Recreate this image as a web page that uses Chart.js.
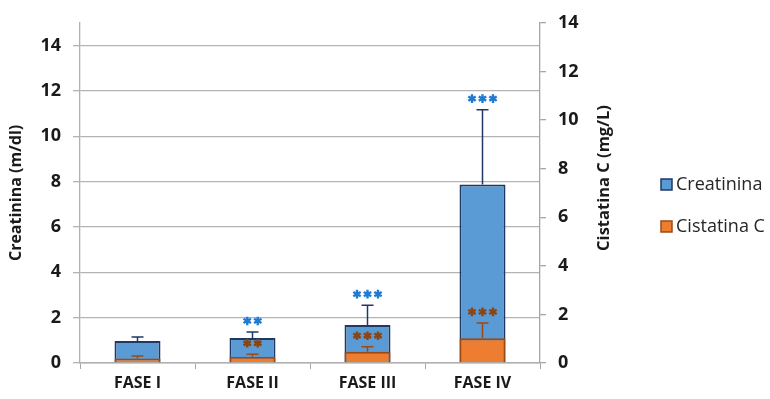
<!DOCTYPE html>
<html>
<head>
<meta charset="utf-8">
<script src="https://cdn.jsdelivr.net/npm/chart.js@4/dist/chart.umd.min.js"></script>
<style>
  html, body { margin: 0; padding: 0; background: #fff; }
  #wrap { width: 770px; height: 399px; position: relative; }
</style>
</head>
<body>
<div id="wrap"><canvas id="c" width="770" height="399"></canvas></div>
<script>
// Phases of the study
const categories = ['FASE I', 'FASE II', 'FASE III', 'FASE IV'];

// Creatinina (m/dl): mean and standard deviation
const creatinina = [0.97, 1.1, 1.68, 7.87];
const creatininaSD = [0.18, 0.27, 0.87, 3.3];
const creatininaSig = ['', '**', '***', '***'];

// Cistatina C (mg/L): mean and standard deviation
const cistatina = [0.19, 0.26, 0.46, 1.02];
const cistatinaSD = [0.10, 0.10, 0.21, 0.63];
const cistatinaSig = ['', '**', '***', '***'];

// Axis ticks
const leftTicks = [0, 2, 4, 6, 8, 10, 12, 14];
const rightTicks = [0, 2, 4, 6, 8, 10, 12, 14];

const FONT = '"Open Sans", sans-serif';
const BLUE = '#5B9BD5', NAVY = '#1F3864';
const ORANGE = '#ED7D31', BROWN = '#9C4A12';
const SIG_BLUE = '#1F7BD0', SIG_BROWN = '#8B4513';
const TEXT = '#1a1a1a';

// Six-spoke asterisk centred on (cx, cy)
function drawStar(ctx, cx, cy, r) {
  ctx.beginPath();
  for (let k = 0; k < 3; k++) {
    const a = Math.PI / 2 + k * Math.PI / 3;
    ctx.moveTo(cx + r * Math.cos(a), cy + r * Math.sin(a));
    ctx.lineTo(cx - r * Math.cos(a), cy - r * Math.sin(a));
  }
  ctx.stroke();
}

// Upward error bars plus significance asterisks
const errorBars = {
  id: 'errorBars',
  afterDatasetsDraw(chart) {
    const ctx = chart.ctx;
    const sets = [
      { idx: 0, vals: creatinina, sd: creatininaSD, sig: creatininaSig, line: NAVY, star: SIG_BLUE, axis: 'y' },
      { idx: 1, vals: cistatina, sd: cistatinaSD, sig: cistatinaSig, line: BROWN, star: SIG_BROWN, axis: 'y1' }
    ];
    sets.forEach(s => {
      const meta = chart.getDatasetMeta(s.idx);
      const scale = chart.scales[s.axis];
      meta.data.forEach((bar, i) => {
        const x = bar.x;
        const yBase = scale.getPixelForValue(s.vals[i]);
        const yTop = scale.getPixelForValue(s.vals[i] + s.sd[i]);
        ctx.save();
        ctx.strokeStyle = s.line;
        ctx.lineWidth = 1.5;
        ctx.beginPath();
        ctx.moveTo(x, yBase);
        ctx.lineTo(x, yTop);
        ctx.moveTo(x - 6, yTop);
        ctx.lineTo(x + 6, yTop);
        ctx.stroke();
        const n = s.sig[i].length;
        if (n) {
          ctx.strokeStyle = s.star;
          ctx.lineWidth = 2.4;
          ctx.lineCap = 'butt';
          const gap = 10.5;
          const x0 = x - (n - 1) * gap / 2;
          for (let k = 0; k < n; k++) drawStar(ctx, x0 + k * gap, yTop - 11, 4.3);
        }
        ctx.restore();
      });
    });
  }
};

// Legend on the right, and the right-hand axis title read bottom-to-top
const sideLegend = {
  id: 'sideLegend',
  afterDraw(chart) {
    const ctx = chart.ctx;
    ctx.save();
    ctx.translate(604, 178);
    ctx.rotate(-Math.PI / 2);
    ctx.fillStyle = TEXT;
    ctx.font = 'bold 16.5px ' + FONT;
    ctx.textAlign = 'center';
    ctx.textBaseline = 'middle';
    ctx.fillText('Cistatina C (mg/L)', 0, 0);
    ctx.restore();

    const items = [
      { label: 'Creatinina', fill: BLUE, border: NAVY, y: 185 },
      { label: 'Cistatina C', fill: ORANGE, border: BROWN, y: 227 }
    ];
    ctx.save();
    items.forEach(it => {
      ctx.fillStyle = it.fill;
      ctx.strokeStyle = it.border;
      ctx.lineWidth = 1.5;
      ctx.fillRect(661, it.y - 6, 11, 11);
      ctx.strokeRect(661, it.y - 6, 11, 11);
      ctx.fillStyle = '#262626';
      ctx.font = '18px ' + FONT;
      ctx.textAlign = 'left';
      ctx.textBaseline = 'middle';
      ctx.fillText(it.label, 676, it.y);
    });
    ctx.restore();
  }
};

new Chart(document.getElementById('c'), {
  type: 'bar',
  data: {
    labels: categories,
    datasets: [
      {
        label: 'Creatinina',
        data: creatinina,
        yAxisID: 'y',
        backgroundColor: BLUE,
        borderColor: NAVY,
        borderWidth: 2,
        borderSkipped: 'bottom',
        grouped: false,
        order: 1,
        barPercentage: 0.4,
        categoryPercentage: 1
      },
      {
        label: 'Cistatina C',
        data: cistatina,
        yAxisID: 'y1',
        backgroundColor: ORANGE,
        borderColor: BROWN,
        borderWidth: 2,
        borderSkipped: 'bottom',
        grouped: false,
        order: 0,
        barPercentage: 0.4,
        categoryPercentage: 1
      }
    ]
  },
  options: {
    responsive: false,
    animation: false,
    layout: { padding: { top: 21, right: 155, left: 0, bottom: 0 } },
    plugins: {
      legend: { display: false },
      tooltip: { enabled: false }
    },
    scales: {
      x: {
        grid: { offset: true, drawOnChartArea: false, color: '#a6a6a6', tickLength: 6, lineWidth: 1 },
        border: { color: '#b0b0b0', width: 1.5 },
        ticks: { color: TEXT, font: { family: FONT, size: 16, weight: 'bold' }, padding: 5 },
        afterFit(s) { s.height = 36; }
      },
      y: {
        position: 'left',
        min: 0,
        max: 15,
        afterBuildTicks(s) { s.ticks = leftTicks.map(v => ({ value: v })); },
        grid: { color: '#b3b3b3', lineWidth: 1.3, tickLength: 7 },
        border: { color: '#b0b0b0', width: 1.3 },
        ticks: { color: TEXT, font: { family: FONT, size: 18, weight: 'bold' }, padding: 12 },
        title: {
          display: true,
          text: 'Creatinina (m/dl)',
          color: TEXT,
          font: { family: FONT, size: 16, weight: 'bold' },
          padding: { top: 7, bottom: 0 }
        },
        afterFit(s) { s.width = 80; }
      },
      y1: {
        position: 'right',
        min: 0,
        max: 14,
        afterBuildTicks(s) { s.ticks = rightTicks.map(v => ({ value: v })); },
        grid: { drawOnChartArea: false, color: '#a6a6a6', lineWidth: 1.3, tickLength: 6 },
        border: { color: '#a6a6a6', width: 1.3 },
        ticks: { color: TEXT, font: { family: FONT, size: 18, weight: 'bold' }, padding: 12 },
        afterFit(s) { s.width = 75; }
      }
    }
  },
  plugins: [errorBars, sideLegend]
});
</script>
</body>
</html>
